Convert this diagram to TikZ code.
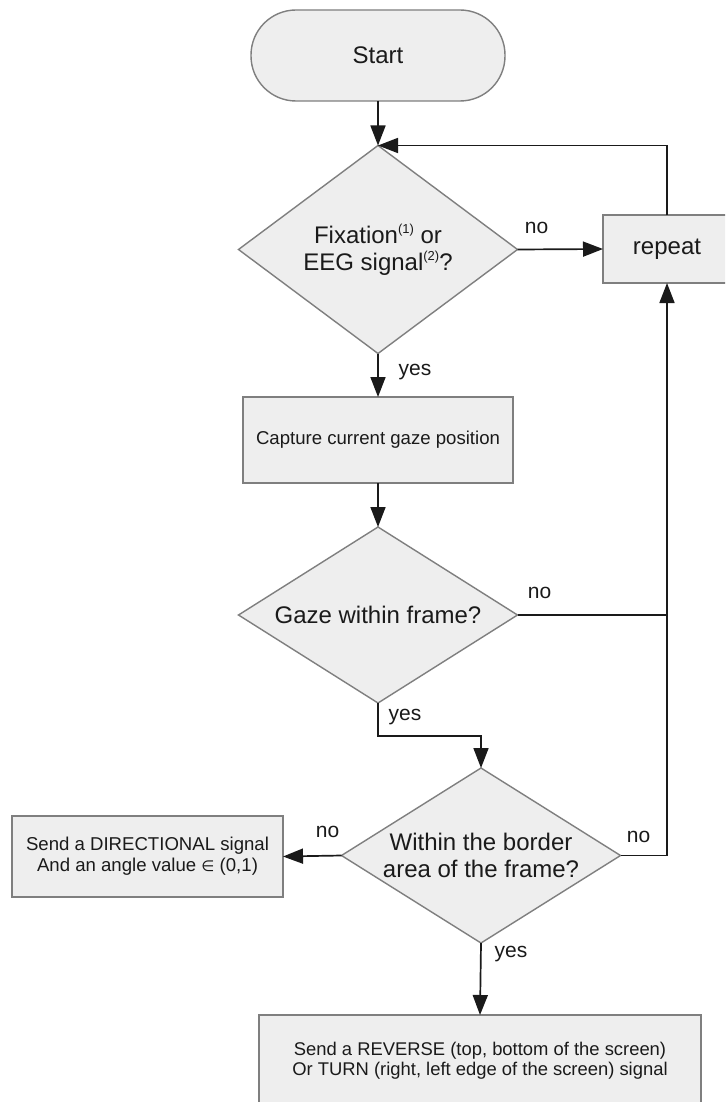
\documentclass[tikz,border=0pt]{standalone}
\usepackage{fontspec}
\setmainfont{Liberation Sans}
\newfontfamily\symfont{DejaVu Sans}
\usetikzlibrary{shapes.geometric,arrows.meta,calc}

\definecolor{boxfill}{HTML}{EEEEEE}
\definecolor{boxline}{HTML}{7F7F7F}
\definecolor{ink}{HTML}{1A1A1A}

\newcommand\supmark[1]{\raisebox{0.42em}{\fontsize{13}{13}\selectfont #1}}
\newcommand\bigtext{\fontsize{24}{27}\selectfont}
\newcommand\smalltext{\fontsize{18.6}{21}\selectfont}

\tikzset{
  shapebase/.style={draw=boxline, fill=boxfill, line width=1.4pt,
    text=ink, inner sep=0pt, outer sep=0pt, align=center},
  terminal/.style={shapebase, rectangle, rounded corners=45pt,
    minimum width=254pt, minimum height=91pt, font=\bigtext},
  decision/.style={shapebase, diamond, inner sep=-6pt, outer sep=0pt,
    minimum width=279pt, font=\bigtext},
  process/.style={shapebase, rectangle},
  conn/.style={draw=ink, line width=1.7pt},
  flow/.style={conn, -{Triangle[length=20pt,width=15pt]}},
  lbl/.style={text=ink, font=\fontsize{21}{21}\selectfont, inner sep=0pt}
}

\begin{document}
\begin{tikzpicture}[x=1pt,y=-1pt]
  \useasboundingbox (0,0) rectangle (725,1102);
  \fill[white] (0,0) rectangle (725,1102);
  \clip (0,0) rectangle (725,1102);

  % shapes
  \node[terminal] (start) at (378,55.5) {Start};
  \node[decision, aspect=1.34, minimum height=208pt] (fix) at (378,249.5)
    {Fixation\supmark{(1)} or\\EEG signal\supmark{(2)}?};
  \node[process, minimum width=128pt, minimum height=68pt, font=\bigtext]
    (rep) at (667,249) {repeat};
  \node[process, minimum width=270pt, minimum height=86pt, font=\smalltext]
    (cap) at (378,440) {Capture current gaze position};
  \node[decision, aspect=1.585, minimum height=176pt] (gaze) at (378,615)
    {Gaze within frame?};
  \node[decision, aspect=1.594, minimum height=175pt] (border) at (481,855.5)
    {Within the border\\area of the frame?};
  \node[process, minimum width=271pt, minimum height=81pt, font=\smalltext]
    (dir) at (147.5,856.5)
    {Send a DIRECTIONAL signal\\And an angle value {\symfont\fontsize{15}{15}\selectfont ∈} (0,1)};
  \node[process, minimum width=442pt, minimum height=92pt,
    font=\fontsize{18.4}{20}\selectfont] (rev) at (480,1061)
    {Send a REVERSE (top, bottom of the screen)\\Or TURN (right, left edge of the screen) signal};

  % connectors
  \draw[flow] (start.south) -- (fix.north);
  \draw[flow] (rep.north) |- (fix.north);
  \draw[flow] (fix.east) --
    node[lbl, at start, xshift=19pt, yshift=21.5pt] {no} (rep.west);
  \draw[flow] (fix.south) --
    node[lbl, at start, xshift=37pt, yshift=-19pt] {yes} (cap.north);
  \draw[flow] (cap.south) -- (gaze.north);
  \draw[conn] (gaze.east) --
    node[lbl, at start, xshift=22pt, yshift=22pt] {no} (rep.south |- gaze.east);
  \draw[flow] (border.east) -- (rep.south |- border.east) -- (rep.south);
  \path (border.east) node[lbl, xshift=18pt, yshift=19pt] {no};
  \draw[flow] (gaze.south) |- ($(border.north)+(0,-32)$) -- (border.north);
  \path (gaze.south) node[lbl, xshift=27pt, yshift=-14pt] {yes};
  \draw[flow] (border.west) --
    node[lbl, at start, xshift=-14pt, yshift=24pt] {no} (dir.east);
  \draw[flow] (border.south) --
    node[lbl, at start, xshift=30pt, yshift=-11pt] {yes} (rev.north);
\end{tikzpicture}
\end{document}
